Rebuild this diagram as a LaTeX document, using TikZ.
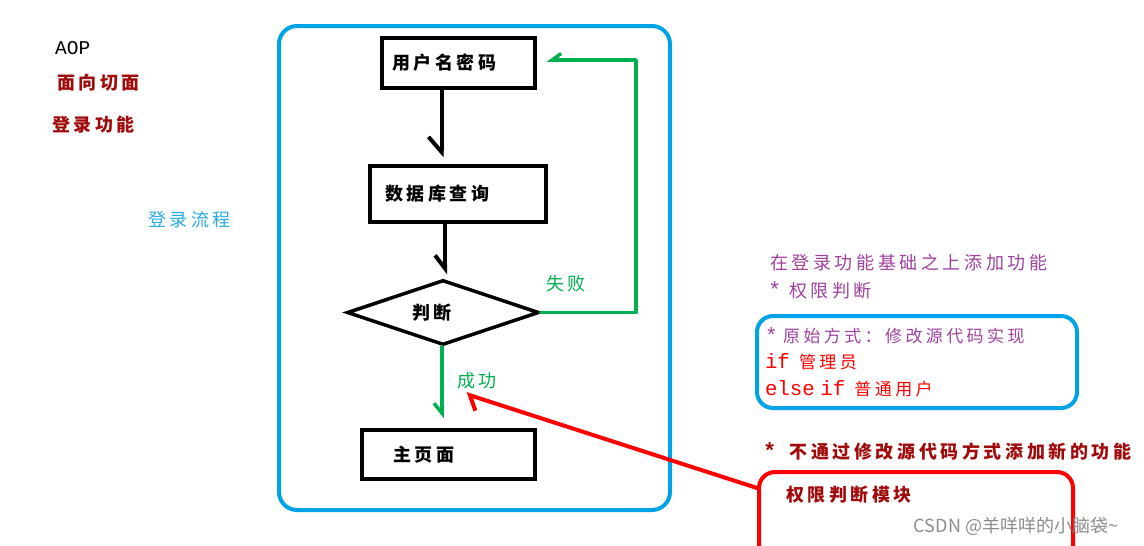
\documentclass[tikz,border=0pt]{standalone}
\usepackage{fontspec}
\newfontfamily\codefont{Liberation Mono}[Scale=1.22]
\newfontfamily\cjk{Noto Sans CJK SC}[LetterSpace=20]
\newfontfamily\markfont{Noto Sans CJK SC}
\usetikzlibrary{arrows.meta,positioning,shapes.geometric,calc}
\definecolor{frameblue}{RGB}{0,162,232}
\definecolor{skyblue}{RGB}{41,171,226}
\definecolor{okgreen}{RGB}{0,176,80}
\definecolor{darkred}{RGB}{160,10,10}
\definecolor{hintpurple}{RGB}{160,64,160}
\definecolor{markgray}{RGB}{140,140,140}

\begin{document}
\begin{tikzpicture}[x=1pt,y=-1pt,font=\cjk\fontsize{18}{22}\selectfont,
    stepbox/.style={draw,line width=3.5pt,align=left,inner ysep=0pt},
    flow/.style={line width=4pt,line cap=round,line join=round},
    txt/.style={inner sep=0pt,anchor=west}]
    \useasboundingbox (0,0) rectangle (1144,546);
    % notes on the left
    \node[txt] (aop) at (55,48) {\codefont\fontsize{16}{20}\selectfont AOP};
    \node[txt,text=darkred] (aspect) at (57,83) {\bfseries 面向切面};
    \node[txt,text=darkred] (login) at (52,125) {\bfseries 登录功能};
    \node[txt,text=skyblue] (loginflow) at (148,220) {登录流程};
    % login flow
    \draw[frameblue,line width=4pt,rounded corners=18pt] (279,26) rectangle (670,510);
    \node[stepbox,minimum width=153,minimum height=50,inner xsep=10pt,text width=133pt] (user) at (458.5,63) {\bfseries 用户名密码};
    \node[stepbox,minimum width=176,minimum height=56,inner xsep=15pt,text width=146pt] (db) at (458,194) {\bfseries 数据库查询};
    \node[draw,diamond,line width=3.5pt,inner sep=0pt,aspect=2.95,minimum width=192,minimum height=65] (judge) at (443,312.5) {\bfseries 判断\hspace*{22pt}};
    \node[stepbox,minimum width=173,minimum height=49,inner xsep=31pt,text width=111pt] (main) at (448.5,454.5) {\bfseries 主页面};
    \draw[flow,-{Straight Barb[harpoon,swap,length=15pt,width=26pt]},shorten >=7pt] ([xshift=-17pt]user.south) -- ([xshift=-17pt]user.south |- db.north);
    \draw[flow,-{Straight Barb[harpoon,swap,length=13pt,width=20pt]},shorten >=4pt] ([xshift=-13pt]db.south) -- ([xshift=-13pt]db.south |- judge.north);
    \coordinate (back) at (636,60);
    \draw[flow,okgreen,line width=3.5pt,-{Straight Barb[harpoon,swap,length=9pt,width=13pt]}] (judge.east) -| (back) -- ([xshift=10pt]back -| user.east);
    \node[text=okgreen,inner sep=0pt] (fail) at (566,284) {失败};
    \draw[flow,okgreen,line width=3.5pt,-{Straight Barb[harpoon,swap,length=10pt,width=16pt]},shorten >=10pt] ([xshift=-1pt]judge.south) -- ([xshift=-1pt]judge.south |- main.north);
    \node[text=okgreen,inner sep=0pt] (ok) at (477,381) {成功};
    % extra features on the right
    \node[txt,text=hintpurple] (extra) at (770,263) {在登录功能基础之上添加功能};
    \node[txt,text=hintpurple] (perm) at (768,290) {{\codefont *} 权限判断};
    \node[draw=frameblue,line width=4pt,rounded corners=16pt,align=left,inner xsep=8pt,text width=304pt,minimum height=92,font=\cjk\fontsize{17}{26.5}\selectfont] (old) at (917,362)
      {\textcolor{hintpurple}{{\codefont *} 原始方式：修改源代码实现}\\
       \textcolor{red}{{\codefont if\ \,}管理员}\\
       \textcolor{red}{{\codefont else if\ \,}普通用户}};
    \node[txt,text=darkred] (nomod) at (763,451) {\bfseries{\codefont * }不通过修改源代码方式添加新的功能};
    \node[draw=red,line width=4pt,rounded corners=16pt,anchor=north west,align=left,inner xsep=27pt,inner ysep=14pt,text width=260pt,text depth=80pt,text=darkred] (mod) at (757,470) {\bfseries 权限判断模块};
    \coordinate (okhint) at (466,394);
    \draw[flow,red,-{Straight Barb[harpoon,length=10pt,width=26pt]}] ([yshift=-18pt]mod.north west) -- (okhint);
    \node[text=markgray,inner sep=0pt,font=\markfont\fontsize{18}{20}\selectfont] (csdn) at (1016,526) {CSDN @羊咩咩的小脑袋\char`\~};
\end{tikzpicture}
\end{document}
